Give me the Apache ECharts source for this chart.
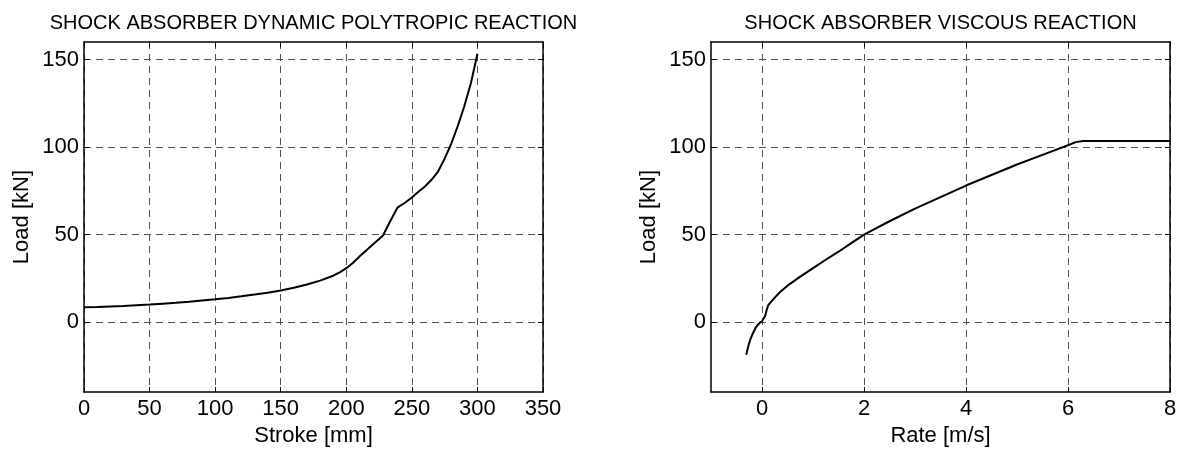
<!DOCTYPE html>
<html>
<head>
<meta charset="utf-8">
<script src="https://cdn.jsdelivr.net/npm/echarts@6/dist/echarts.min.js"></script>
<style>
html,body{margin:0;padding:0;background:#fff;}
#chart{width:1180px;height:452px;}
</style>
</head>
<body>
<div id="chart"></div>
<script>
// ---- Data ----
const strokeMm = [0, 10, 20, 30, 40, 50, 60, 70, 80, 90, 100, 110, 120, 130, 140, 150, 160, 170, 180, 190, 195, 200, 205, 210, 215, 220, 225, 228, 234, 239, 245, 250, 255, 260, 265, 270, 275, 280, 285, 290, 295, 300];
const polytropicLoad = [8.5, 8.6, 8.9, 9.2, 9.6, 10.0, 10.5, 11.0, 11.6, 12.3, 13.0, 13.8, 14.7, 15.7, 16.8, 18.0, 19.6, 21.5, 23.7, 26.5, 28.4, 30.8, 33.8, 37.4, 40.8, 44.2, 47.5, 49.5, 58.3, 65.4, 68.3, 71.2, 74.5, 77.5, 81.3, 86, 93.4, 101.8, 112, 123.3, 136.4, 153.3];

const rateMs = [-0.31, -0.27, -0.23, -0.18, -0.13, -0.08, -0.04, 0.0, 0.03, 0.06, 0.09, 0.12, 0.16, 0.25, 0.35, 0.5, 0.75, 1.0, 1.25, 1.5, 1.75, 2.0, 2.5, 3.0, 3.5, 4.0, 4.5, 5.0, 5.5, 6.0, 6.15, 6.3, 8.0];
const viscousLoad = [-18.7, -14, -10, -6.5, -3.5, -1.5, -0.3, 0.4, 0.8, 3.5, 6.8, 9.5, 11, 14, 17, 20.8, 26, 30.8, 35.6, 40.2, 45.1, 50, 57.6, 64.8, 71.4, 78, 84, 90, 95.5, 101, 102.8, 103.5, 103.5];

const strokeTicks = [0, 50, 100, 150, 200, 250, 300, 350];
const rateTicks = [0, 2, 4, 6, 8];
const loadTicks = [0, 50, 100, 150];

const titles = ['SHOCK ABSORBER DYNAMIC POLYTROPIC REACTION', 'SHOCK ABSORBER VISCOUS REACTION'];
const xNames = ['Stroke [mm]', 'Rate [m/s]'];
const yName = 'Load [kN]';

// ---- Layout / style ----
const FONT = 'Liberation Sans, Arial, Helvetica, sans-serif';
const grids = [
  {left: 84, top: 42, width: 459, height: 354},
  {left: 711, top: 42, width: 459, height: 354}
];
const gridDash = {type: [7, 5], color: '#505050', width: 1};
const borderLine = {show: true, onZero: false, lineStyle: {color: '#000', width: 1.5}};

function mainX(gi, min, max, ticks, name) {
  return {
    type: 'value', gridIndex: gi, min: min, max: max, position: 'bottom',
    axisLine: borderLine,
    axisTick: {show: true, inside: true, length: 5, customValues: ticks, lineStyle: {color: '#000', width: 1}},
    axisLabel: {show: true, customValues: ticks, color: '#000', fontSize: 22, fontFamily: FONT, margin: 6, showMinLabel: true, showMaxLabel: true},
    splitLine: {show: true, customValues: ticks, lineStyle: gridDash},
    name: name, nameLocation: 'middle', nameGap: 30,
    nameTextStyle: {color: '#000', fontSize: 22, fontFamily: FONT}
  };
}
function frameX(gi, min, max, ticks) {
  return {
    type: 'value', gridIndex: gi, min: min, max: max, position: 'top',
    axisLine: borderLine,
    axisTick: {show: true, inside: true, length: 5, customValues: ticks, lineStyle: {color: '#000', width: 1}},
    axisLabel: {show: false}, splitLine: {show: false}
  };
}
function mainY(gi) {
  return {
    type: 'value', gridIndex: gi, min: -40, max: 160, position: 'left',
    axisLine: borderLine,
    axisTick: {show: true, inside: true, length: 5, customValues: loadTicks, lineStyle: {color: '#000', width: 1}},
    axisLabel: {show: true, customValues: loadTicks, color: '#000', fontSize: 22, fontFamily: FONT, margin: 5},
    splitLine: {show: true, customValues: loadTicks, lineStyle: gridDash},
    name: yName, nameLocation: 'middle', nameGap: 51, nameRotate: 90,
    nameTextStyle: {color: '#000', fontSize: 22, fontFamily: FONT}
  };
}
function frameY(gi) {
  return {
    type: 'value', gridIndex: gi, min: -40, max: 160, position: 'right',
    axisLine: borderLine,
    axisTick: {show: true, inside: true, length: 5, customValues: loadTicks, lineStyle: {color: '#000', width: 1}},
    axisLabel: {show: false}, splitLine: {show: false}
  };
}

const chart = echarts.init(document.getElementById('chart'), null, {renderer: 'canvas'});
chart.setOption({
  backgroundColor: '#fff',
  animation: false,
  grid: grids.map(g => Object.assign({containLabel: false}, g)),
  graphic: titles.map((t, i) => ({
    type: 'text',
    x: grids[i].left + grids[i].width / 2,
    y: 23,
    style: {text: t, fill: '#000', font: '20px ' + FONT, textAlign: 'center', textVerticalAlign: 'middle'}
  })),
  xAxis: [
    mainX(0, 0, 350, strokeTicks, xNames[0]),
    mainX(1, -1, 8, rateTicks, xNames[1]),
    frameX(0, 0, 350, strokeTicks),
    frameX(1, -1, 8, rateTicks)
  ],
  yAxis: [mainY(0), mainY(1), frameY(0), frameY(1)],
  series: [
    {
      type: 'line', xAxisIndex: 0, yAxisIndex: 0, showSymbol: false, symbol: 'none',
      lineStyle: {color: '#000', width: 2}, z: 10,
      data: strokeMm.map((s, i) => [s, polytropicLoad[i]])
    },
    {
      type: 'line', xAxisIndex: 1, yAxisIndex: 1, showSymbol: false, symbol: 'none',
      lineStyle: {color: '#000', width: 2}, z: 10,
      data: rateMs.map((r, i) => [r, viscousLoad[i]])
    }
  ]
});
</script>
</body>
</html>
